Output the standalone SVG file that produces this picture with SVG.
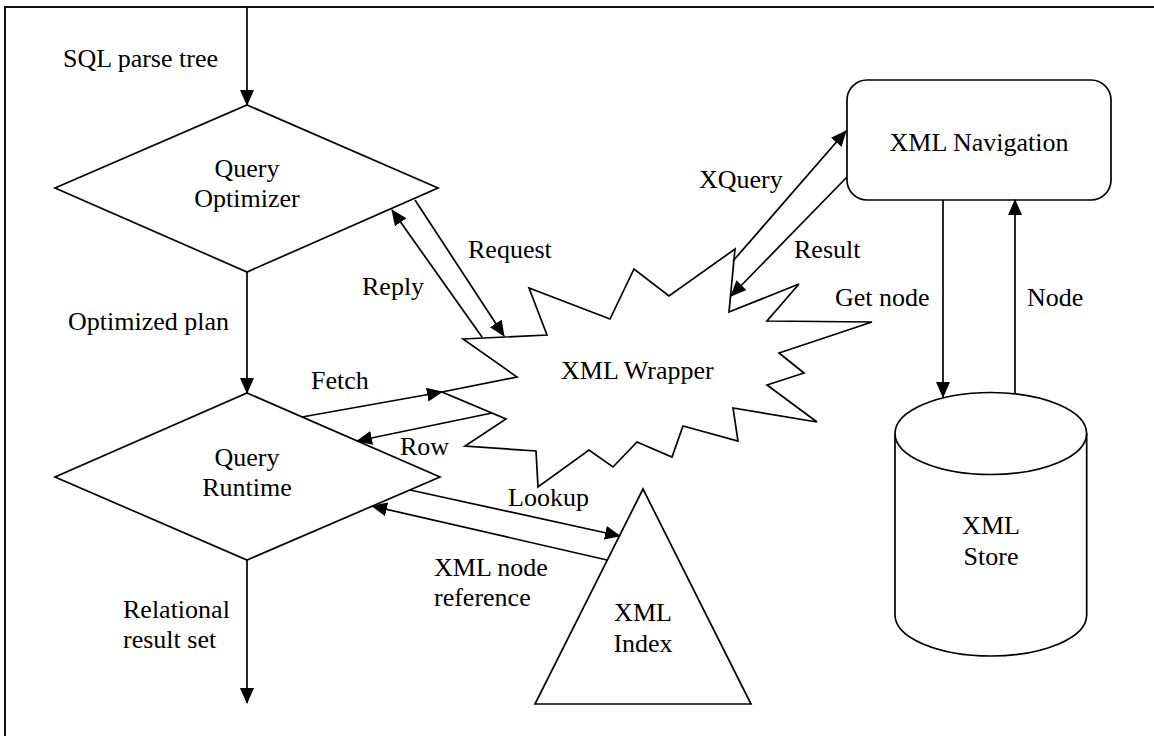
<svg xmlns="http://www.w3.org/2000/svg" width="1154" height="736" viewBox="0 0 1154 736">
<style>
.s{fill:#fff;stroke:#000;stroke-width:1.7;stroke-linejoin:miter}
.c{fill:none;stroke:#000;stroke-width:1.7}
text{font-family:"Liberation Serif","Times New Roman",serif;font-size:26px;fill:#000}
.m{text-anchor:middle}
</style>
<defs>
<marker id="ah" viewBox="0 0 16 14" markerWidth="16" markerHeight="14" refX="15" refY="7" orient="auto" markerUnits="userSpaceOnUse">
<path d="M0,0 L16,7 L0,14 z" fill="#000"/>
</marker>
</defs>
<rect width="1154" height="736" fill="#fff"/>
<path d="M5,736 L5,7 L1154,7" fill="none" stroke="#111" stroke-width="2"/>

<g id="query-optimizer">
<polygon class="s" points="247,105 438,188 247,272 55,188"/>
<text class="m" x="247" y="177">Query</text>
<text class="m" x="247" y="207">Optimizer</text>
</g>

<g id="query-runtime">
<polygon class="s" points="247,393 440,477 247,560 55,477"/>
<text class="m" x="247" y="466">Query</text>
<text class="m" x="247" y="496">Runtime</text>
</g>

<g id="xml-wrapper">
<polygon class="s" points="463,339 547,335 529,288 610,319 634,269 669,296 735,249 729,312 799,284 767,321 872,322 779,353 804,373 767,385 817,422 733,408 738,441 683,426 672,457 637,442 613,467 589,450 538,487 536,451 465,446 506,419 442,392 517,377"/>
<text x="561" y="379">XML Wrapper</text>
</g>

<g id="xml-navigation">
<rect class="s" x="847" y="80" width="264" height="120" rx="20" ry="20"/>
<text class="m" x="979" y="151">XML Navigation</text>
</g>

<g id="xml-store">
<path class="s" d="M895,433.5 L895,615 A95.8,41 0 0 0 1086.7,615 L1086.7,433.5"/>
<ellipse class="s" cx="990.8" cy="433.5" rx="95.8" ry="41"/>
<text class="m" x="991" y="534">XML</text>
<text class="m" x="991" y="565">Store</text>
</g>

<g id="xml-index">
<polygon class="s" points="643,489 751,704 535,704"/>
<text class="m" x="643" y="621">XML</text>
<text class="m" x="643" y="652">Index</text>
</g>

<g id="connectors">
<path class="c" d="M247,7 L247,105" marker-end="url(#ah)"/>
<path class="c" d="M247,272 L247,393" marker-end="url(#ah)"/>
<path class="c" d="M247,560 L247,703" marker-end="url(#ah)"/>
<path class="c" d="M415,200 L504,336" marker-end="url(#ah)"/>
<path class="c" d="M482,337 L392,210" marker-end="url(#ah)"/>
<path class="c" d="M302,417 L442,392" marker-end="url(#ah)"/>
<path class="c" d="M492,413 L357,441" marker-end="url(#ah)"/>
<path class="c" d="M410,490 L620,536" marker-end="url(#ah)"/>
<path class="c" d="M607,560 L372,506" marker-end="url(#ah)"/>
<path class="c" d="M733,261 L846,131" marker-end="url(#ah)"/>
<path class="c" d="M847,177 L731,296" marker-end="url(#ah)"/>
<path class="c" d="M943,200 L943,397" marker-end="url(#ah)"/>
<path class="c" d="M1015,394 L1015,200" marker-end="url(#ah)"/>
<text x="63" y="67">SQL parse tree</text>
<text x="68" y="330">Optimized plan</text>
<text x="123" y="618">Relational</text>
<text x="123" y="648">result set</text>
<text x="468" y="258">Request</text>
<text x="362" y="295">Reply</text>
<text x="311" y="389">Fetch</text>
<text x="400" y="455">Row</text>
<text x="508" y="506">Lookup</text>
<text x="434" y="576">XML node</text>
<text x="434" y="606">reference</text>
<text x="699" y="188">XQuery</text>
<text x="794" y="258">Result</text>
<text x="835" y="306">Get node</text>
<text x="1027" y="306">Node</text>
</g>
</svg>
